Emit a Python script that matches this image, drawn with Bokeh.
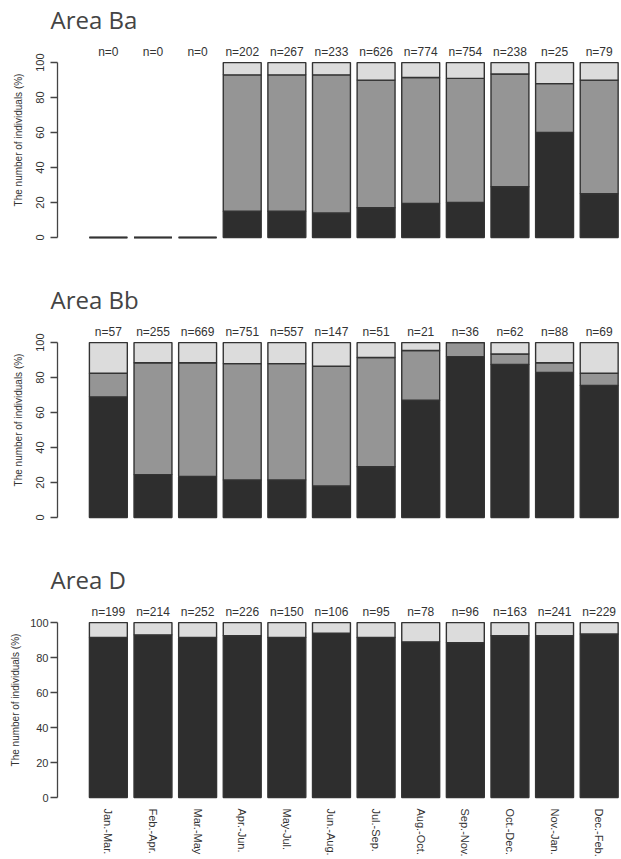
from bokeh.plotting import figure
from bokeh.layouts import column
from bokeh.models import FixedTicker, ColumnDataSource
from bokeh.core.properties import value
from bokeh.embed import file_html
from bokeh.resources import INLINE

months = ["Jan.-Mar.", "Feb.-Apr.", "Mar.-May", "Apr.-Jun.", "May-Jul.", "Jun.-Aug.",
          "Jul.-Sep.", "Aug.-Oct.", "Sep.-Nov.", "Oct.-Dec.", "Nov.-Jan.", "Dec.-Feb."]

ba_n = [0, 0, 0, 202, 267, 233, 626, 774, 754, 238, 25, 79]
ba_dark = [0, 0, 0, 15, 15, 14, 17, 19.5, 20, 29, 60, 25]
ba_mid = [0, 0, 0, 78, 78, 79, 73, 72, 71, 64.5, 28, 65]
ba_light = [0, 0, 0, 7, 7, 7, 10, 8.5, 9, 6.5, 12, 10]

bb_n = [57, 255, 669, 751, 557, 147, 51, 21, 36, 62, 88, 69]
bb_dark = [69, 24.5, 23.5, 21.5, 21.5, 18, 29, 67, 92, 87.5, 83, 75.5]
bb_mid = [13.5, 64, 65, 66.5, 66.5, 68.5, 62.5, 28.5, 8, 6, 5.5, 7]
bb_light = [17.5, 11.5, 11.5, 12, 12, 13.5, 8.5, 4.5, 0, 6.5, 11.5, 17.5]

d_n = [199, 214, 252, 226, 150, 106, 95, 78, 96, 163, 241, 229]
d_dark = [91.5, 93, 91.5, 92.5, 91.5, 94, 91.5, 89, 88.5, 92.5, 92.5, 93.5]
d_mid = [0, 0, 0, 0, 0, 0, 0, 0, 0, 0, 0, 0]
d_light = [8.5, 7, 8.5, 7.5, 8.5, 6, 8.5, 11, 11.5, 7.5, 7.5, 6.5]

COLORS = ["#2e2e2e", "#959595", "#dcdcdc"]
FONT = "Liberation Sans"


def panel(title, n, dark, mid, light, show_x, rot_y):
    h = 299 if show_x else 280
    bottom = 55 if show_x else 36
    p = figure(width=621, height=h, output_backend="svg", toolbar_location=None,
               x_range=(-0.14, 12.5), y_range=(-4, 115.5),
               min_border_left=57, min_border_right=0, min_border_top=29,
               min_border_bottom=bottom)
    p.title.text = title
    p.title.text_font = "Open Sans"
    p.title.text_font_size = "24px"
    p.title.text_font_style = "normal"
    p.title.align = "left"
    p.title.offset = -7
    p.title.standoff = 0
    x = list(range(1, 13))
    src = ColumnDataSource(dict(x=x, dark=dark, mid=mid, light=light,
                                lab=["n=%d" % v for v in n], ly=[106] * 12))
    p.vbar_stack(["dark", "mid", "light"], x="x", width=0.85, source=src,
                 fill_color=COLORS, line_color="#333333", line_width=1.4)
    p.text(x="x", y="ly", text="lab", source=src, text_align="center",
           text_baseline="middle", text_font=value(FONT), text_font_size="12px",
           text_color="#333333")
    p.grid.visible = False
    p.outline_line_color = None
    yax = p.yaxis[0]
    yax.bounds = (0, 100)
    yax.ticker = FixedTicker(ticks=[0, 20, 40, 60, 80, 100])
    yax.minor_tick_line_color = None
    yax.major_tick_in = 0
    yax.major_tick_out = 7
    yax.axis_line_color = "#444444"
    yax.major_tick_line_color = "#444444"
    yax.axis_line_width = 1.3
    yax.major_tick_line_width = 1.3
    yax.major_label_text_font = FONT
    yax.major_label_text_font_size = "11px"
    yax.major_label_text_color = "#333333"
    yax.axis_label = "The number of individuals (%)"
    yax.axis_label_text_font = FONT
    yax.axis_label_text_font_size = "10px"
    yax.axis_label_text_font_style = "normal"
    yax.axis_label_text_color = "#333333"
    if rot_y:
        yax.major_label_orientation = "vertical"
        yax.major_label_standoff = 6
        yax.axis_label_standoff = 10
    else:
        yax.major_label_standoff = 2
        yax.axis_label_standoff = 6
    xax = p.xaxis[0]
    if show_x:
        xax.ticker = FixedTicker(ticks=x)
        xax.major_label_overrides = {i + 1: m for i, m in enumerate(months)}
        xax.major_label_orientation = "vertical"
        xax.axis_line_color = None
        xax.major_tick_line_color = None
        xax.major_tick_out = 0
        xax.major_tick_in = 0
        xax.minor_tick_line_color = None
        xax.major_label_text_font = FONT
        xax.major_label_text_font_size = "11px"
        xax.major_label_text_color = "#333333"
        xax.major_label_standoff = 4
    else:
        xax.visible = False
    return p


p1 = panel("Area Ba", ba_n, ba_dark, ba_mid, ba_light, False, True)
p2 = panel("Area Bb", bb_n, bb_dark, bb_mid, bb_light, False, True)
p3 = panel("Area D", d_n, d_dark, d_mid, d_light, True, False)

layout = column(p1, p2, p3, spacing=0)
open("out.html", "w").write(file_html(layout, INLINE))
